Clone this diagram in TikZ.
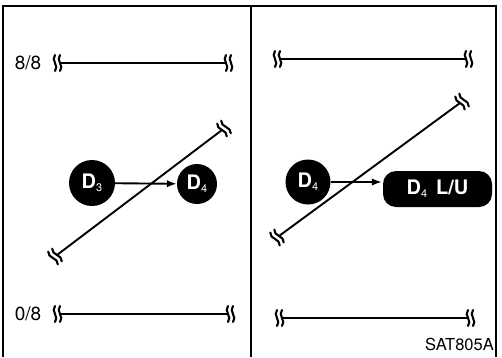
\documentclass[tikz,border=0pt]{standalone}
\usepackage{fontspec}
\setmainfont{TeX Gyre Heros}
\usetikzlibrary{arrows.meta,calc}
\newcommand{\dsub}[1]{\raisebox{-3pt}{\mdseries\fontsize{11}{11}\selectfont #1}}
\begin{document}
\begin{tikzpicture}[x=1pt,y=-1pt,
  frameline/.style={line width=2.4pt},
  topframe/.style={line width=1.1pt},
  lvl/.style={line width=1.9pt},
  brkline/.style={line width=2.1pt,line cap=round},
  pics/brk/.style={code={
     \draw[brkline] (0,-8) .. controls (-4.5,-3) and (4.5,3) .. (0,8);
     \draw[brkline] (#1,-8) .. controls (#1-4.5,-3) and (#1+4.5,3) .. (#1,8);
  }},
  dot/.style={circle,fill=black,text=white,inner sep=0pt,minimum size=#1,
    font=\fontsize{20}{20}\selectfont\bfseries},
  pill/.style={rectangle,rounded corners=13pt,fill=black,text=white,inner sep=0pt,
    minimum width=109pt,minimum height=36pt,font=\fontsize{20}{20}\selectfont\bfseries},
  lbl/.style={inner sep=0pt,font=\fontsize{19}{19}\selectfont},
  arr/.style={line width=1.9pt,-{Latex[length=10pt,width=7.5pt]}}
]
\useasboundingbox (0,0) rectangle (502,357);
% frame
\draw[topframe] (2,6) -- (497,6);
\draw[frameline] (3,6) -- (3,357);
\draw[frameline] (251,6) -- (251,357);
\draw[frameline] (496,6) -- (496,357);

% coordinates of the level lines
\coordinate (tl1) at (60,63);  \coordinate (tl2) at (226,63);
\coordinate (tr1) at (280,59); \coordinate (tr2) at (466,59);
\coordinate (bl1) at (60,314); \coordinate (bl2) at (228,314);
\coordinate (br1) at (282,318);\coordinate (br2) at (468,318);
\coordinate (dl1) at (57,255); \coordinate (dl2) at (222,130);
\coordinate (dr1) at (279,236);\coordinate (dr2) at (460,103);

\foreach \a/\b in {tl1/tl2,tr1/tr2,bl1/bl2,br1/br2,dl1/dl2,dr1/dr2}{
  \draw[lvl] (\a) -- (\b) pic[pos=0,sloped]{brk=-5} pic[pos=1,sloped]{brk=5};
}

% labels
\node[lbl] (l88) at (28,63) {8/8};
\node[lbl] (l08) at (28,314) {0/8};
\node[inner sep=0pt,anchor=south east,font=\fontsize{16.5}{16.5}\selectfont] (code) at (494,351) {SAT805A};

% left panel
\node[dot=46pt] (d3) at (92,183) {D\dsub{3}};
\node[dot=40pt] (d4a) at (197,184) {D\dsub{4}};
\draw[arr] (d3) -- (d4a);

% right panel
\node[dot=45pt] (d4b) at (308,182) {D\dsub{4}};
\node[pill] (d4lu) at (437.5,189) {D\dsub{4}\hspace{9pt}L/U};
\draw[arr] (d4b.east) -- ($(d4b.east -| d4lu.west)+(-1,0)$);
\end{tikzpicture}
\end{document}
